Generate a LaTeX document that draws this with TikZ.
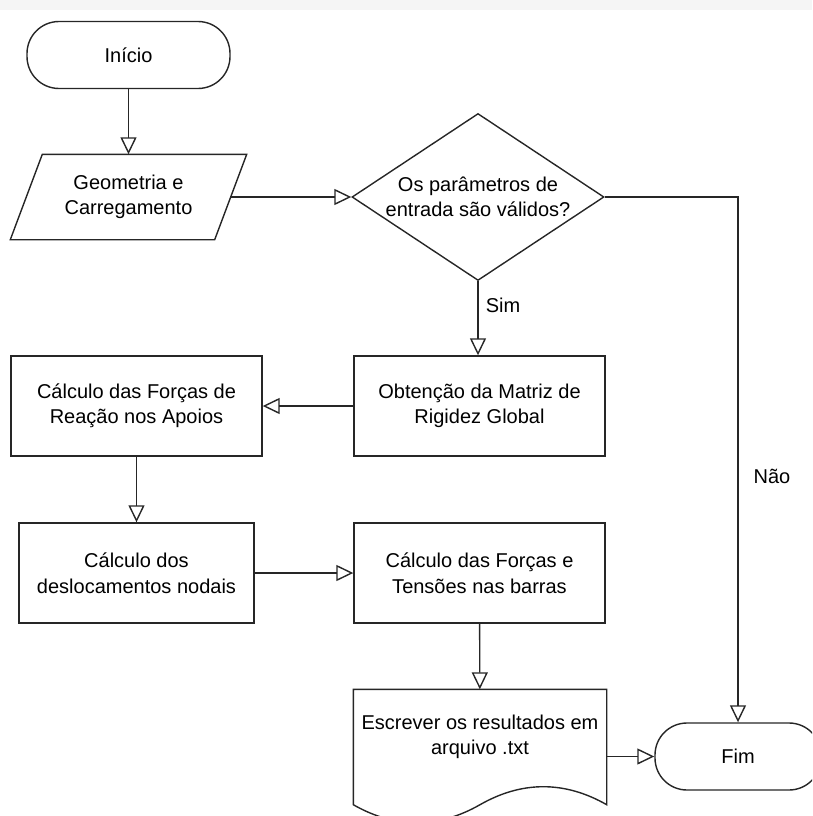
\documentclass[tikz,border=0pt]{standalone}
\usepackage{fontspec}
\setmainfont{Liberation Sans}
\usepackage{xcolor}
\usepackage{tikz}
\usetikzlibrary{arrows.meta,positioning,shapes.geometric,calc}

\begin{document}
\begin{tikzpicture}[
    x=1pt, y=-1pt,
    every node/.style={font=\fontsize{20}{25.5}\selectfont, text=black},
    terminal/.style={draw, rounded corners=32pt, minimum width=#1, minimum height=67pt, inner sep=0pt},
    io/.style={minimum width=203pt, minimum height=84pt, align=center, inner sep=0pt},
    decision/.style={draw, diamond, minimum width=252pt, minimum height=167pt, inner sep=0pt},
    box/.style={draw, minimum width=#1, minimum height=100pt, align=center, inner sep=0pt},
    doc/.style={minimum width=252pt, minimum height=114pt, inner sep=0pt},
    arr/.style={-{Triangle[open, length=17pt, width=16pt]}, line width=1.4pt},
    lbl/.style={inner sep=0pt},
    line width=1.4pt, draw=black!85
  ]
  \clip (0,0) rectangle (812,816);
  \fill[black!4] (0,0) rectangle (812,10);

  % Start and input
  \node[terminal=203pt] (inicio) at (128.5,55) {Início};
  \node[io] (geom) at (128.5,197) {Geometria e\\Carregamento};
  \draw ($(geom.north west)+(16,0)$) -- ($(geom.north east)+(16,0)$)
    -- ($(geom.south east)+(-16,0)$) -- ($(geom.south west)+(-16,0)$) -- cycle;

  % Check
  \node[decision] (valid) at (478,197) {};
  \node[align=center, inner sep=0pt] (validtxt) at (valid) {Os parâmetros de\\entrada são válidos?};

  % Processing
  \node[box=251pt] (matriz) at (479.5,406) {Obtenção da Matriz de\\Rigidez Global};
  \node[box=251pt] (reacao) at (136.5,406) {Cálculo das Forças de\\Reação nos Apoios};
  \node[box=235pt] (desloc) at (136.5,573) {Cálculo dos\\deslocamentos nodais};
  \node[box=251pt] (tensoes) at (479.5,573) {Cálculo das Forças e\\Tensões nas barras};

  % Output document
  \node[doc] (result) at (480,747) {};
  \draw (result.north west) -- (result.north east) -- (result.south east)
    .. controls ($(result.south east)+(-42,-24)$) and ($(result.south)+(42,-24)$) .. (result.south)
    .. controls ($(result.south)+(-42,24)$) and ($(result.south west)+(42,24)$) .. (result.south west)
    -- cycle;
  \node[align=center, inner sep=0pt] (resulttxt) at ($(result)+(0,-10)$) {Escrever os resultados em\\arquivo .txt};

  % End
  \node[terminal=166pt] (fim) at (738,756.5) {Fim};

  % Arrows
  \draw[arr] (inicio) -- (geom);
  \draw[arr] (geom.east) -- (valid.west);
  \draw[arr] (valid.south) -- (valid.south |- matriz.north);
  \draw[arr] (valid.east) -| (fim.north);
  \draw[arr] (matriz) -- (reacao);
  \draw[arr] (reacao) -- (desloc);
  \draw[arr] (desloc) -- (tensoes);
  \draw[arr] (tensoes) -- (result);
  \draw[arr] (result.east |- fim.west) -- (fim.west);

  % Branch labels
  \node[lbl] (sim) at (503,305) {Sim};
  \node[lbl] (nao) at (772,476) {Não};
\end{tikzpicture}
\end{document}
